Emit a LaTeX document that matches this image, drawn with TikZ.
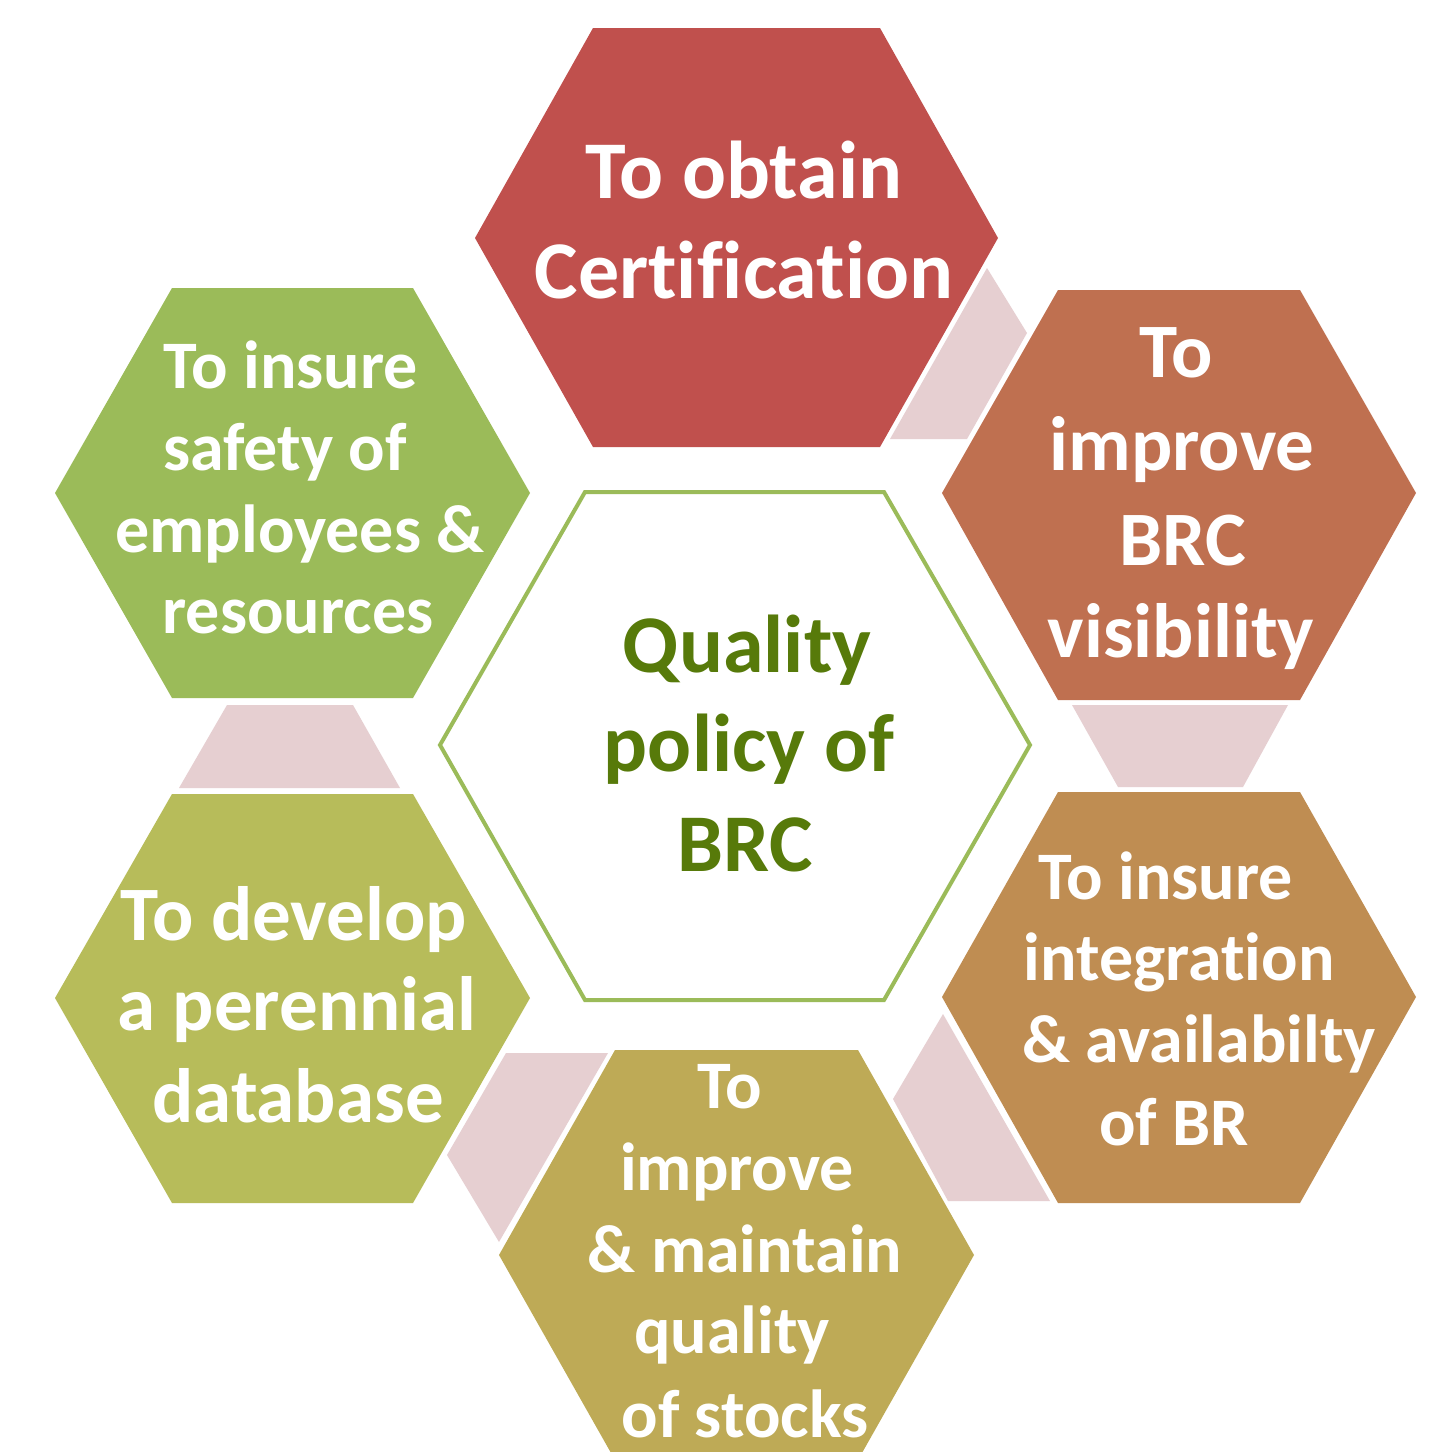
\documentclass[tikz,border=0pt]{standalone}
\usepackage{fontspec}
\setmainfont{Carlito}[RawFeature={-liga;-clig}]
\definecolor{hexA}{HTML}{C0504D}
\definecolor{hexB}{HTML}{BF7050}
\definecolor{hexC}{HTML}{BF8D52}
\definecolor{hexD}{HTML}{BEAA56}
\definecolor{hexE}{HTML}{B7BC5A}
\definecolor{hexF}{HTML}{9BBB59}
\definecolor{link}{HTML}{E6CFD1}
\definecolor{centertxt}{HTML}{577A0A}
\begin{document}
\begin{tikzpicture}[x=0.5pt,y=-0.5pt,
  linkshape/.style={fill=link},
  wt/.style={text=white,anchor=base,inner sep=0pt},
  big/.style={font=\bfseries\fontsize{41}{50}\selectfont},
  mid/.style={font=\bfseries\fontsize{38.5}{46}\selectfont},
  small/.style={font=\bfseries\fontsize{34}{41}\selectfont},
  ct/.style={text=centertxt,anchor=base,inner sep=0pt,font=\bfseries\fontsize{41}{50}\selectfont}]
\useasboundingbox (0,0) rectangle (1451,1452);
\clip (0,0) rectangle (1451,1452);
\fill[white] (0,0) rectangle (1451,1452);
% links
\fill[linkshape] (890,439) -- (987,268) -- (1027,333) -- (967,439) -- cycle;
\fill[linkshape] (1072,705) -- (1288,705) -- (1243,787) -- (1118,787) -- cycle;
\fill[linkshape] (943,1014) -- (893,1099) -- (948,1201) -- (1050,1201) -- cycle;
\fill[linkshape] (506,1053) -- (608,1053) -- (499,1242) -- (447,1155) -- cycle;
\fill[linkshape] (227,705) -- (353,705) -- (400,788) -- (179,788) -- cycle;
% hexagons
\fill[hexA] (475,238) -- (593,28) -- (880,28) -- (998,238) -- (880,447) -- (593,447) -- cycle;
\fill[hexB] (942,493) -- (1058,290) -- (1300,290) -- (1416,493) -- (1300,700) -- (1058,700) -- cycle;
\fill[hexC] (942,997) -- (1058,792) -- (1300,792) -- (1416,997) -- (1300,1203) -- (1058,1203) -- cycle;
\fill[hexD] (499,1255) -- (615,1050) -- (858,1050) -- (974,1255) -- (858,1460) -- (615,1460) -- cycle;
\fill[hexE] (55,998) -- (172,794) -- (413,794) -- (530,998) -- (413,1203) -- (172,1203) -- cycle;
\fill[hexF] (55,493) -- (172,288) -- (413,288) -- (530,493) -- (413,698) -- (172,698) -- cycle;
\draw[hexF,line width=2pt,fill=white] (440,745) -- (585,492) -- (884,492) -- (1030,745) -- (884,1000) -- (585,1000) -- cycle;
% texts
\node[wt,big] (a1) at (744,198) {To obtain};
\node[wt,big] (a2) at (744,298) {Certification};
\node[wt,mid] (b1) at (1176,377) {To};
\node[wt,mid] (b2) at (1182,470) {improve};
\node[wt,mid] (b3) at (1183,565) {BRC};
\node[wt,mid] (b4) at (1181,657) {visibility};
\node[wt,small] (c1) at (1166,899) {To insure};
\node[wt,small] (c2) at (1179,980) {integration};
\node[wt,small] (c3) at (1199,1062) {\& availabilty};
\node[wt,small] (c4) at (1174,1145) {of BR};
\node[wt,small] (d1) at (730,1108) {To};
\node[wt,small] (d2) at (737,1190) {improve};
\node[wt,small] (d3) at (745,1272) {\& maintain};
\node[wt,small] (d4) at (732,1353) {quality};
\node[wt,small] (d5) at (745,1437) {of stocks};
\node[wt,mid] (e1) at (294,940) {To develop};
\node[wt,mid] (e2) at (297,1030) {a perennial};
\node[wt,mid] (e3) at (298,1122) {database};
\node[wt,small] (f1) at (291,388) {To insure};
\node[wt,small] (f2) at (285,470) {safety of};
\node[wt,small] (f3) at (300,552) {employees \&};
\node[wt,small] (f4) at (298,633) {resources};
\node[ct] (g1) at (747,672) {Quality};
\node[ct] (g2) at (749,771) {policy of};
\node[ct] (g3) at (745,871) {BRC};
\end{tikzpicture}
\end{document}
